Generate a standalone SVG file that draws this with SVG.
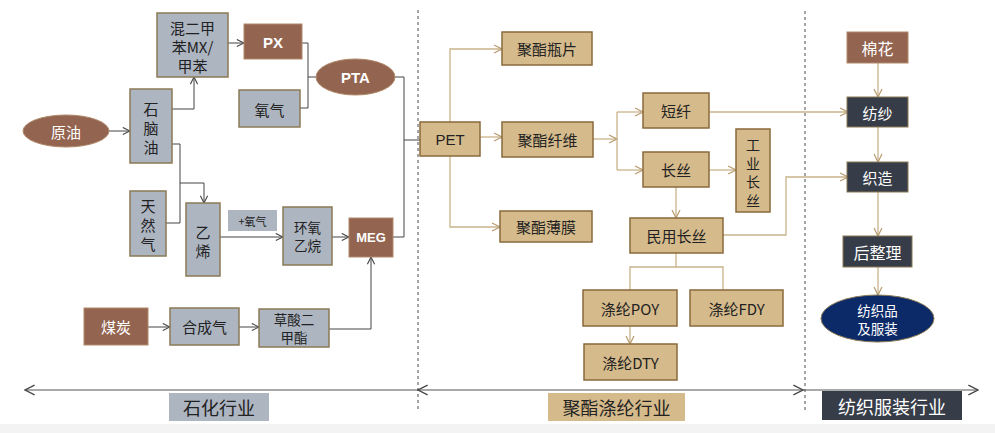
<svg xmlns="http://www.w3.org/2000/svg" width="995" height="433" viewBox="0 0 995 433">
<style>
text{font-family:"Noto Sans CJK SC","Liberation Sans",sans-serif;font-size:15px;text-anchor:middle;dominant-baseline:central;fill:#222}
.w{fill:#fff}
.s{font-size:14px}
.xs{font-size:13.5px}
.lat{font-family:"Liberation Sans","Noto Sans CJK SC",sans-serif;font-weight:bold}
.g{fill:#adb5c1;stroke:#8a7a55;stroke-width:1.5}
.b{fill:#936450;stroke:#b08a6a;stroke-width:1}
.t{fill:#d5ba8b;stroke:#8a6a3a;stroke-width:1.5}
.d{fill:#363d48;stroke:#8a7a55;stroke-width:1}
.cl{fill:none;stroke:#444;stroke-width:1}
.cr{fill:none;stroke:#c9b28a;stroke-width:1.3}
.ax{fill:none;stroke:#555;stroke-width:1.2}
.dash{stroke:#888;stroke-width:1.5;stroke-dasharray:3,3}
</style>
<defs>
<marker id="al" viewBox="0 0 10 10" refX="9" refY="5" markerWidth="9" markerHeight="9" markerUnits="userSpaceOnUse" orient="auto"><path d="M1,1 L9,5 L1,9" fill="none" stroke="#444" stroke-width="1.2"/></marker>
<marker id="ar" viewBox="0 0 10 10" refX="9" refY="5" markerWidth="10" markerHeight="10" markerUnits="userSpaceOnUse" orient="auto"><path d="M1,1 L9,5 L1,9" fill="none" stroke="#b89c70" stroke-width="1.2"/></marker>
<marker id="aa" viewBox="0 0 10 10" refX="9" refY="5" markerWidth="12" markerHeight="12" markerUnits="userSpaceOnUse" orient="auto-start-reverse"><path d="M1,1 L9,5 L1,9" fill="none" stroke="#444" stroke-width="1.1"/></marker>
</defs>
<rect x="0" y="0" width="995" height="433" fill="#fff"/>
<rect x="0" y="424" width="995" height="9" fill="#f3f3f3"/>

<g id="dividers">
<line class="dash" x1="418" y1="10" x2="418" y2="410"/>
<line class="dash" x1="805" y1="11" x2="805" y2="410"/>
</g>

<g id="connectors">
<path class="cl" d="M172,109 H194 V77" marker-end="url(#al)"/>
<path class="cl" d="M228,43 H244" marker-end="url(#al)"/>
<path class="cl" d="M302,43 H308 V108 H300 M308,77 H316"/>
<path class="cl" d="M395,77 H404 V237 H393 M404,140 H420"/>
<path class="cl" d="M109,131 H130" marker-end="url(#al)"/>
<path class="cl" d="M172,144 H180 V223 H166 M180,183 H204 V203" marker-end="url(#al)"/>
<path class="cl" d="M220,237 H283" marker-end="url(#al)"/>
<path class="cl" d="M332,237 H349" marker-end="url(#al)"/>
<path class="cl" d="M148,327 H170" marker-end="url(#al)"/>
<path class="cl" d="M239,327 H259" marker-end="url(#al)"/>
<path class="cl" d="M329,329 H371 V257" marker-end="url(#al)"/>
<path class="cr" d="M450,122 V49 H502" marker-end="url(#ar)"/>
<path class="cr" d="M450,156 V227 H500" marker-end="url(#ar)"/>
<path class="cr" d="M480,137 H502" marker-end="url(#ar)"/>
<path class="cr" d="M593,139 H617" marker-end="url(#ar)"/>
<path class="cr" d="M617,112 V170"/>
<path class="cr" d="M617,112 H643" marker-end="url(#ar)"/>
<path class="cr" d="M617,170 H643" marker-end="url(#ar)"/>
<path class="cr" d="M709,170 H736" marker-end="url(#ar)"/>
<path class="cr" d="M676,187 V218" marker-end="url(#ar)"/>
<path class="cr" d="M676,253 V267 M630,290 V267 H723 V290"/>
<path class="cr" d="M630,326 V344" marker-end="url(#ar)"/>
<path class="cr" d="M709,112 H848" marker-end="url(#ar)"/>
<path class="cr" d="M723,235 H786 V177 H848" marker-end="url(#ar)"/>
<path class="cr" d="M878,63 V97" marker-end="url(#ar)"/>
<path class="cr" d="M878,127 V162" marker-end="url(#ar)"/>
<path class="cr" d="M878,192 V236" marker-end="url(#ar)"/>
<path class="cr" d="M878,267 V295" marker-end="url(#ar)"/>
<path class="ax" d="M25,390 H418" marker-start="url(#aa)"/>
<path class="ax" d="M418,390 H803" marker-start="url(#aa)" marker-end="url(#aa)"/>
<path class="ax" d="M803,390 H978" marker-end="url(#aa)"/>
</g>

<g id="n-mx"><rect class="g" x="157" y="13" width="71" height="64"/><text><tspan x="192.5" y="26.5">混二甲</tspan><tspan x="192.5" y="45.5">苯MX/</tspan><tspan x="192.5" y="64.5">甲苯</tspan></text></g>
<g id="n-px"><rect class="b" x="244" y="24" width="58" height="35"/><text class="w lat" x="273" y="42">PX</text></g>
<g id="n-pta"><ellipse cx="355.5" cy="77" rx="39.5" ry="18" fill="#936450" stroke="#b08a6a"/><text class="w lat" x="355.5" y="77">PTA</text></g>
<g id="n-o2"><rect class="g" x="239" y="90" width="61" height="37"/><text x="269.5" y="109">氧气</text></g>
<g id="n-crude"><ellipse cx="66" cy="131" rx="43" ry="16" fill="#936450" stroke="#b08a6a"/><text class="w" x="66" y="131">原油</text></g>
<g id="n-naphtha"><rect class="g" x="130" y="89" width="42" height="74"/><text><tspan x="151" y="108">石</tspan><tspan x="151" y="127">脑</tspan><tspan x="151" y="146">油</tspan></text></g>
<g id="n-gas"><rect class="g" x="130" y="191" width="36" height="65"/><text><tspan x="148" y="204.5">天</tspan><tspan x="148" y="223.5">然</tspan><tspan x="148" y="242.5">气</tspan></text></g>
<g id="n-ethylene"><rect class="g" x="186" y="203" width="34" height="73"/><text><tspan x="203" y="231">乙</tspan><tspan x="203" y="250">烯</tspan></text></g>
<g id="n-plus-o2"><rect x="228" y="210" width="49" height="21" fill="#adb5c1"/><text x="252.5" y="220.5" style="font-size:11px">+氧气</text></g>
<g id="n-eo"><rect class="g" x="283" y="207" width="49" height="58"/><text class="xs"><tspan x="307.5" y="226.5">环氧</tspan><tspan x="307.5" y="245">乙烷</tspan></text></g>
<g id="n-meg"><rect class="b" x="349" y="218" width="44" height="39"/><text class="w lat" x="371" y="237.5" style="font-size:13px">MEG</text></g>
<g id="n-coal"><rect class="b" x="84" y="308" width="64" height="37"/><text class="w" x="116" y="326.5">煤炭</text></g>
<g id="n-syngas"><rect class="g" x="170" y="308" width="69" height="37"/><text x="204.5" y="326.5">合成气</text></g>
<g id="n-dmo"><rect class="g" x="259" y="309" width="70" height="38"/><text class="xs"><tspan x="294" y="318.5">草酸二</tspan><tspan x="294" y="337">甲酯</tspan></text></g>

<g id="n-pet"><rect class="t" x="420" y="122" width="60" height="34"/><text class="lat" x="450" y="139" style="font-weight:normal">PET</text></g>
<g id="n-bottle"><rect class="t" x="502" y="32" width="90" height="33"/><text x="547" y="48.5">聚酯瓶片</text></g>
<g id="n-fiber"><rect class="t" x="502" y="122" width="91" height="35"/><text x="547.5" y="139.5">聚酯纤维</text></g>
<g id="n-film"><rect class="t" x="500" y="211" width="92" height="31"/><text x="546" y="226.5">聚酯薄膜</text></g>
<g id="n-staple"><rect class="t" x="643" y="93" width="66" height="35"/><text x="676" y="110.5">短纤</text></g>
<g id="n-filament"><rect class="t" x="643" y="152" width="66" height="35"/><text x="676" y="169.5">长丝</text></g>
<g id="n-industrial"><rect class="t" x="736" y="129" width="34" height="83"/><text class="s"><tspan x="753" y="144">工</tspan><tspan x="753" y="162.5">业</tspan><tspan x="753" y="181">长</tspan><tspan x="753" y="199.5">丝</tspan></text></g>
<g id="n-civil"><rect class="t" x="630" y="218" width="93" height="35"/><text x="676.5" y="235.5">民用长丝</text></g>
<g id="n-poy"><rect class="t" x="583" y="290" width="94" height="36"/><text x="630" y="308">涤纶POY</text></g>
<g id="n-fdy"><rect class="t" x="690" y="290" width="93" height="36"/><text x="736.5" y="308">涤纶FDY</text></g>
<g id="n-dty"><rect class="t" x="584" y="344" width="93" height="36"/><text x="630.5" y="362">涤纶DTY</text></g>

<g id="n-cotton"><rect class="b" x="847" y="32" width="61" height="31"/><text class="w" x="877.5" y="47.5" style="font-size:16px">棉花</text></g>
<g id="n-spin"><rect class="d" x="847" y="97" width="61" height="30"/><text class="w" x="877.5" y="112">纺纱</text></g>
<g id="n-weave"><rect class="d" x="847" y="162" width="61" height="30"/><text class="w" x="877.5" y="177">织造</text></g>
<g id="n-finish"><rect class="d" x="843" y="236" width="69" height="31"/><text class="w" x="877.5" y="251.5" style="font-size:16px">后整理</text></g>
<g id="n-apparel"><ellipse cx="877.5" cy="318.5" rx="56.5" ry="23.5" fill="#0d2a68" stroke="#8a7a55"/><text class="w xs"><tspan x="877.5" y="309.5">纺织品</tspan><tspan x="877.5" y="328">及服装</tspan></text></g>

<g id="labels">
<rect x="169" y="393" width="100" height="28" fill="#adb5c1"/><text x="219" y="407" style="font-size:18px">石化行业</text>
<rect x="548" y="393" width="137" height="28" fill="#d5ba8b"/><text x="616.5" y="407" style="font-size:18px">聚酯涤纶行业</text>
<rect x="822" y="391" width="140" height="29" fill="#363d48"/><text class="w" x="892" y="405.5" style="font-size:18px">纺织服装行业</text>
</g>
</svg>
